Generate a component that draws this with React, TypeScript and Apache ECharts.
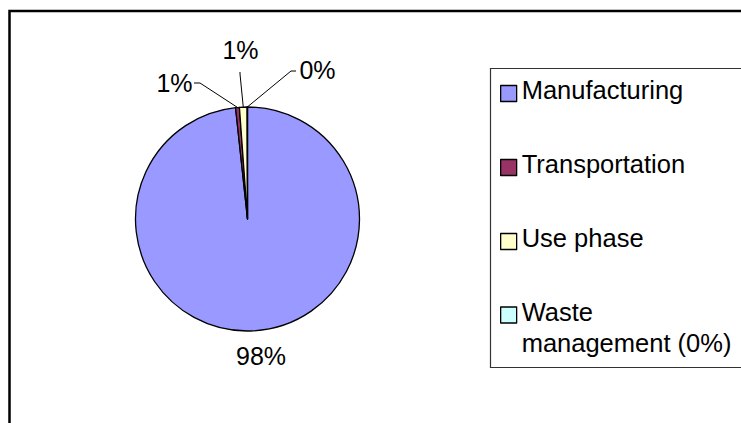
import React, { useEffect, useRef } from "react";
import * as echarts from "echarts";

const categories = ["Manufacturing", "Transportation", "Use phase", "Waste management (0%)"];
const values = [98.3, 0.55, 1.1, 0.05];
const colors = ["#9999FF", "#993366", "#FFFFCC", "#CCFFFF"];

// label anchor positions (px) and leader line bend/end points
const LABEL_POS: number[][] = [
  [261, 356],
  [174.5, 82.5],
  [240.5, 49.5],
  [317.5, 70],
];
const LINE_MID: (number[] | null)[] = [null, [200, 83], [240, 74], [291, 71]];
const LINE_END: (number[] | null)[] = [null, [194, 83], [240, 72], [296, 71]];

const FONT = "'Liberation Sans', Arial, sans-serif";
// square icon sitting at the bottom of a taller box, so the text sits a little above it
const ICON_LOW = "path://M0,0L0,0M0,7H16V23H0Z";
// square icon at the top of a taller box (for the two-line entry)
const ICON_HIGH = "path://M0,0H16V16H0ZM0,41L0,41";

export default function App() {
  const ref = useRef<HTMLDivElement>(null);
  useEffect(() => {
    if (!ref.current) return;
    const chart = echarts.init(ref.current, undefined, { renderer: "svg" });
    const legendCommon = {
      orient: "vertical",
      icon: ICON_LOW,
      itemWidth: 16,
      itemHeight: 23,
      itemGap: 0,
      padding: 0,
      selectedMode: false,
      itemStyle: { borderColor: "#000", borderWidth: 1.3 },
      textStyle: {
        fontSize: 25.5,
        fontFamily: FONT,
        color: "#000",
        lineHeight: 16,
      },
    };
    chart.setOption({
      animation: false,
      color: colors,
      graphic: [
        {
          type: "rect",
          shape: { x: 9.5, y: 11, width: 900, height: 600 },
          style: { fill: "none", stroke: "#000", lineWidth: 2.5 },
          z: 0,
        },
        {
          type: "rect",
          shape: { x: 490.5, y: 68.5, width: 400, height: 299 },
          style: { fill: "#fff", stroke: "#333", lineWidth: 1.2 },
          z: 0,
        },
      ],
      legend: [
        { ...legendCommon, data: [categories[0]], left: 500, top: 77 },
        { ...legendCommon, data: [categories[1]], left: 500, top: 151 },
        { ...legendCommon, data: [categories[2]], left: 500, top: 225 },
        {
          ...legendCommon,
          icon: ICON_HIGH,
          itemHeight: 41,
          data: [categories[3]],
          left: 500,
          top: 296.5,
          formatter: (n: string) => n.replace(" ", "\n"),
          textStyle: {
            fontSize: 25.5,
            fontFamily: FONT,
            color: "#000",
            lineHeight: 31,
          },
        },
      ],
      series: [
        {
          type: "pie",
          center: [247.5, 219],
          radius: 112,
          startAngle: 90,
          clockwise: true,
          avoidLabelOverlap: false,
          itemStyle: { borderColor: "#000", borderWidth: 1.3 },
          label: {
            show: true,
            position: "outside",
            fontSize: 25,
            fontFamily: FONT,
            color: "#000",
            formatter: (p: any) => Math.round(p.percent) + "%",
          },
          labelLine: { show: true, lineStyle: { color: "#000", width: 1 } },
          labelLayout: (params: any) => {
            const i = params.dataIndex;
            const res: any = {
              x: LABEL_POS[i][0],
              y: LABEL_POS[i][1],
              align: "center",
              verticalAlign: "middle",
              hideOverlap: false,
              moveOverlap: null,
            };
            if (LINE_MID[i] && params.labelLinePoints) {
              res.labelLinePoints = [params.labelLinePoints[0], LINE_MID[i], LINE_END[i]];
            }
            return res;
          },
          data: categories.map((name, i) => ({
            name,
            value: values[i],
            labelLine: { show: i !== 0 },
          })),
        },
      ],
    });
    return () => chart.dispose();
  }, []);
  return (
    <div
      ref={ref}
      style={{ position: "fixed", left: 0, top: 0, width: 741, height: 423, background: "#fff" }}
    />
  );
}
